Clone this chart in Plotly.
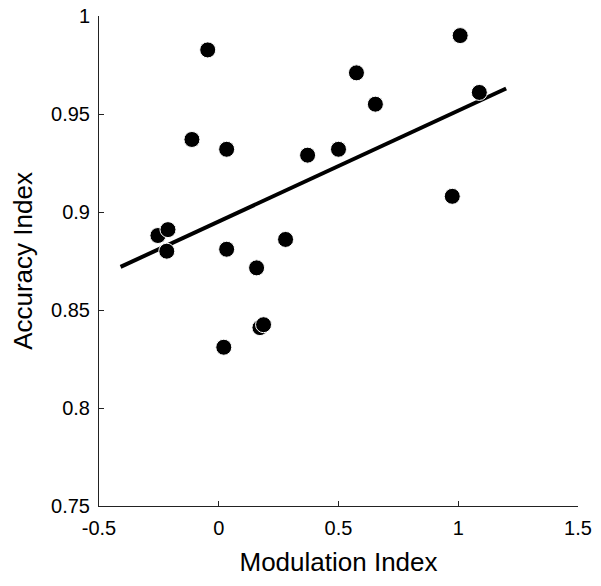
import plotly.graph_objects as go

# Data
mod_index = [-0.046, 1.008, 0.575, 0.654, 1.088, 0.975, -0.112, 0.033, 0.371, 0.50,
             -0.254, -0.212, -0.217, 0.033, 0.158, 0.279, 0.172, 0.187, 0.021]
acc_index = [0.9827, 0.990, 0.971, 0.955, 0.961, 0.908, 0.937, 0.932, 0.929, 0.932,
             0.888, 0.891, 0.880, 0.881, 0.8715, 0.886, 0.841, 0.8425, 0.831]

fit_x = [-0.41, 1.2]
fit_y = [0.872, 0.963]

x_ticks = [-0.5, 0, 0.5, 1, 1.5]
x_ticktext = ["-0.5", "0", "0.5", "1", "1.5"]
y_ticks = [0.75, 0.8, 0.85, 0.9, 0.95, 1]
y_ticktext = ["0.75", "0.8", "0.85", "0.9", "0.95", "1"]

fig = go.Figure()
fig.add_trace(go.Scatter(x=fit_x, y=fit_y, mode="lines",
                         line=dict(color="black", width=4), showlegend=False))
fig.add_trace(go.Scatter(x=mod_index, y=acc_index, mode="markers",
                         marker=dict(color="black", size=16,
                                     line=dict(color="white", width=1)),
                         showlegend=False))

font = "Liberation Sans, Arial, Helvetica, sans-serif"
fig.update_layout(
    width=585, height=570,
    margin=dict(l=91, r=15, t=8, b=72),
    plot_bgcolor="white", paper_bgcolor="white",
    font=dict(family=font, color="black"),
    xaxis=dict(range=[-0.5, 1.5], tickvals=x_ticks, ticktext=x_ticktext,
               ticks="inside", ticklen=5, tickcolor="#222", showline=True,
               linecolor="#222", linewidth=1, showgrid=False, zeroline=False,
               tickfont=dict(size=20), automargin=False, ticklabelstandoff=4,
               ticklabeloverflow="allow",
               title=dict(text="Modulation Index", font=dict(size=26), standoff=14)),
    yaxis=dict(range=[0.75, 1], tickvals=y_ticks, ticktext=y_ticktext,
               ticks="inside", ticklen=5, tickcolor="#222", showline=True,
               linecolor="#222", linewidth=1, showgrid=False, zeroline=False,
               tickfont=dict(size=20), automargin=False, ticklabelstandoff=4,
               ticklabeloverflow="allow",
               title=dict(text="Accuracy Index", font=dict(size=26), standoff=14)),
)

fig.write_html("out.html")
